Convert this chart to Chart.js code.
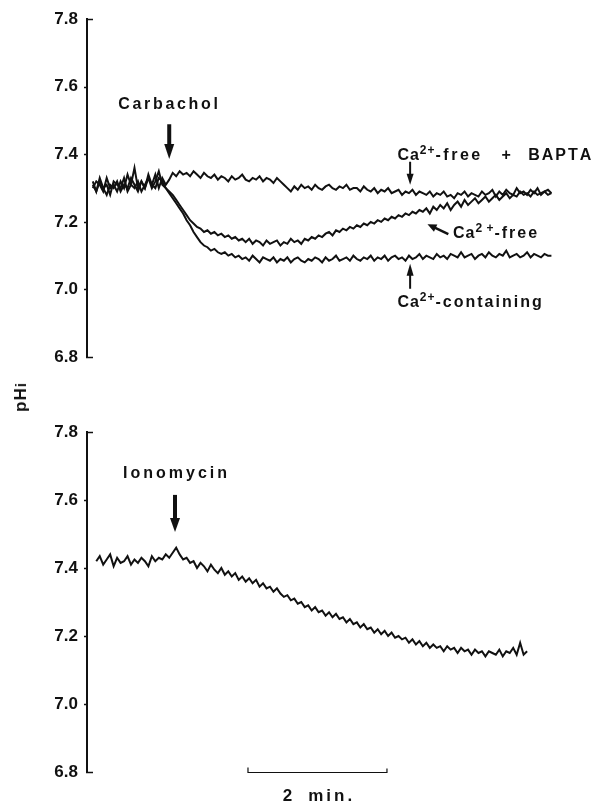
<!DOCTYPE html>
<html>
<head>
<meta charset="utf-8">
<script src="https://cdn.jsdelivr.net/npm/chart.js@4.4.1/dist/chart.umd.min.js"></script>
<style>
  html, body { margin: 0; padding: 0; background: #fff; }
  body { width: 593px; height: 804px; position: relative; overflow: hidden; }
  canvas { position: absolute; left: 0; }
  #c1 { top: 0; }
  #c2 { top: 400px; }
  #ylab { position: absolute; left: 21px; top: 397px; transform: translate(-50%, -50%) rotate(-90deg);
          font: bold 17px "Liberation Sans", Arial, sans-serif; color: #111; white-space: nowrap; letter-spacing: 1px; }
</style>
</head>
<body>
<canvas id="c1" width="593" height="380"></canvas>
<canvas id="c2" width="593" height="404"></canvas>
<div id="ylab">pH<span style="font-size:15px">i</span></div>
<script>
// ---- data (time in s, pHi) ----
const timeTop = [5,8,11,14,17,20,23,26,29,32,35,38,41,44,47,50,53,56,59,62,65,68,71,74,77,80,83,86,89,92,95,98,101,104,107,110,113,116,119,122,125,128,131,134,137,140,143,146,149,152,155,158,161,164,167,170,173,176,179,182,185,188,191,194,197,200,203,206,209,212,215,218,221,224,227,230,233,236,239,242,245,248,251,254,257,260,263,266,269,272,275,278,281,284,287,290,293,296,299,302,305,308,311,314,317,320,323,326,329,332,335,338,341,344,347,350,353,356,359,362,365,368,371,374,377,380,383,386,389,392,395,398,401];

const caFreeBapta = [7.32,7.29,7.33,7.30,7.31,7.28,7.32,7.31,7.30,7.33,7.29,7.31,7.36,7.30,7.32,7.30,7.33,7.31,7.34,7.30,7.33,7.31,
  7.325,7.345,7.335,7.35,
  7.34,7.345,7.335,7.35,7.34,7.33,7.345,7.335,7.33,7.34,7.325,7.335,7.33,7.32,7.335,7.325,7.33,7.34,7.325,7.32,7.33,7.325,7.335,7.32,7.33,7.325,7.315,7.33,7.32,7.31,
  7.30,7.29,7.305,7.295,7.31,7.30,7.305,7.295,7.31,7.30,7.295,7.305,7.31,7.30,7.295,7.305,7.30,7.31,7.295,7.30,
  7.30,7.29,7.305,7.295,7.29,7.30,7.285,7.295,7.29,7.30,7.285,7.29,7.295,7.28,7.29,7.285,7.295,7.28,7.29,7.285,
  7.28,7.29,7.275,7.285,7.28,7.29,7.275,7.28,7.27,7.285,7.28,7.29,7.275,7.285,7.28,7.275,7.29,7.28,7.285,7.295,7.275,7.29,7.28,7.295,7.285,7.28,7.30,7.285,7.29,7.28,7.295,7.285,7.30,7.28,7.29,7.295,7.285];

const caFree = [7.30,7.32,7.31,7.29,7.33,7.30,7.31,7.29,7.32,7.30,7.34,7.31,7.30,7.32,7.29,7.31,7.33,7.30,7.32,7.35,7.31,7.30,
  7.29,7.28,7.265,7.25,7.235,7.22,7.205,7.195,7.185,7.18,7.17,7.175,7.165,7.17,7.16,7.165,7.155,7.16,7.15,7.155,
  7.145,7.15,7.14,7.15,7.135,7.145,7.14,7.13,7.145,7.135,7.14,7.145,7.13,7.14,7.135,7.15,7.14,7.145,7.135,7.15,7.145,7.155,7.15,7.16,
  7.155,7.165,7.17,7.16,7.175,7.17,7.18,7.175,7.185,7.18,7.19,7.185,7.195,7.19,7.20,7.195,7.205,7.20,7.21,7.205,7.215,7.21,7.22,
  7.215,7.225,7.22,7.23,7.225,7.235,7.23,7.24,7.225,7.245,7.235,7.25,7.24,7.255,7.235,7.25,7.26,7.245,7.265,7.25,7.26,7.27,7.255,7.265,7.275,7.26,7.27,7.28,7.265,7.275,7.285,7.27,7.28,7.275,7.29,7.28,7.285,7.275,7.29,7.28,7.285,7.29,7.28,7.285];

const caContaining = [7.31,7.29,7.32,7.30,7.28,7.31,7.30,7.32,7.29,7.31,7.30,7.33,7.31,7.29,7.32,7.30,7.34,7.31,7.30,7.33,7.32,7.30,
  7.285,7.27,7.255,7.24,7.225,7.205,7.19,7.17,7.155,7.14,7.13,7.125,7.115,7.12,7.11,7.105,7.11,7.10,7.105,7.095,
  7.10,7.09,7.095,7.085,7.10,7.09,7.08,7.095,7.09,7.085,
  7.095,7.08,7.09,7.085,7.095,7.08,7.09,7.095,7.085,7.08,
  7.09,7.085,7.095,7.09,7.08,7.095,7.085,7.09,7.10,7.085,
  7.09,7.095,7.085,7.10,7.09,7.085,7.095,7.09,7.10,7.085,
  7.095,7.09,7.10,7.085,7.095,7.10,7.09,7.095,7.085,7.10,
  7.09,7.095,7.105,7.09,7.10,7.095,7.09,7.105,7.095,7.10,
  7.09,7.105,7.10,7.095,7.11,7.095,7.10,7.105,7.09,7.10,
  7.105,7.095,7.11,7.10,7.095,7.105,7.10,7.115,7.095,7.10,
  7.105,7.095,7.10,7.11,7.095,7.105,7.10,7.095,7.105,7.10,
  7.10];

const timeBottom = [8,11,14,17,20,23,26,29,32,35,38,41,44,47,50,53,56,59,62,65,68,71,74,77,80,83,86,89,92,95,98,101,104,107,110,113,116,119,122,125,128,131,134,137,140,143,146,149,152,155,158,161,164,167,170,173,176,179,182,185,188,191,194,197,200,203,206,209,212,215,218,221,224,227,230,233,236,239,242,245,248,251,254,257,260,263,266,269,272,275,278,281,284,287,290,293,296,299,302,305,308,311,314,317,320,323,326,329,332,335,338,341,344,347,350,353,356,359,362,365,368,371,374,377,380];

const ionomycin = [7.42,7.435,7.41,7.425,7.44,7.405,7.43,7.415,7.42,7.435,7.41,7.425,7.415,7.43,7.42,7.405,7.435,7.42,7.43,
  7.425,7.44,7.43,7.445,7.46,
  7.44,7.425,7.43,7.415,7.42,7.40,7.415,7.405,7.39,7.41,7.395,
  7.385,7.40,7.38,7.39,7.375,7.385,7.365,7.375,7.36,7.37,7.355,7.365,7.345,7.355,7.34,7.345,7.33,7.34,7.325,7.315,7.32,7.305,
  7.31,7.295,7.30,7.285,7.29,7.275,7.285,7.27,7.275,7.26,7.27,7.255,7.265,7.25,7.255,7.24,7.25,7.235,7.24,7.225,7.235,7.22,7.225,7.21,7.22,7.205,7.215,7.20,7.21,7.195,7.20,
  7.19,7.195,7.18,7.19,7.175,7.185,7.17,7.18,7.165,7.175,7.165,7.17,7.155,7.17,7.16,7.165,7.15,7.165,7.155,7.16,7.145,7.16,7.15,7.155,7.14,7.155,7.15,7.145,7.16,7.14,7.155,7.15,7.165,7.145,7.18,7.145,7.155];

const yTicks = [6.8, 7.0, 7.2, 7.4, 7.6, 7.8];

// ---- annotation layout (data coords) ----
const FONT = '"Liberation Sans", Arial, sans-serif';
const annTop = [
  {type:'text', x:70, y:7.533, align:'center', segs:[{t:'Carbachol', s:16, sp:2.7}]},
  {type:'arrow', x1:71, y1:7.489, x2:71, y2:7.386, w:4, hl:15, hw:10},
  {type:'text', x:268, y:7.384, segs:[{t:'Ca', s:16, sp:1},{t:'2+', s:12, sp:1, rise:6},{t:'-free', s:16, sp:2.5}]},
  {type:'text', x:358, y:7.384, segs:[{t:'+', s:16, sp:0}]},
  {type:'text', x:381, y:7.384, segs:[{t:'BAPTA', s:16, sp:2}]},
  {type:'arrow', x1:279, y1:7.378, x2:279, y2:7.31, w:2, hl:11, hw:7},
  {type:'text', x:316, y:7.152, segs:[{t:'Ca', s:16, sp:1},{t:'2 +', s:12, sp:0.5, rise:6},{t:'-free', s:16, sp:2}]},
  {type:'arrow', x1:312, y1:7.164, x2:294, y2:7.193, w:2.5, hl:9, hw:8},
  {type:'arrow', x1:279, y1:7.002, x2:279, y2:7.076, w:2, hl:12, hw:7},
  {type:'text', x:268, y:6.947, segs:[{t:'Ca', s:16, sp:1},{t:'2+', s:12, sp:1, rise:6},{t:'-containing', s:16, sp:2}]}
];
const annBottom = [
  {type:'text', x:76, y:7.665, align:'center', segs:[{t:'Ionomycin', s:16, sp:3}]},
  {type:'arrow', x1:76, y1:7.615, x2:76, y2:7.506, w:4, hl:14, hw:10},
  {type:'scalebar', x1:139, x2:259, y:6.8},
  {type:'text', x:169, y:6.8, dy:29, segs:[{t:'2', s:17, sp:0}]},
  {type:'text', x:191, y:6.8, dy:29, segs:[{t:'min.', s:17, sp:3}]}
];

function spacedWidth(ctx, seg) {
  ctx.font = 'bold ' + seg.s + 'px ' + FONT;
  let w = 0;
  for (const ch of seg.t) w += ctx.measureText(ch).width + seg.sp;
  return w - seg.sp;
}
function drawSegs(ctx, segs, x, y, align) {
  let total = 0;
  segs.forEach((sg, i) => { total += spacedWidth(ctx, sg) + (i < segs.length - 1 ? 1 : 0); });
  let cx = align === 'center' ? x - total / 2 : x;
  ctx.fillStyle = '#111';
  ctx.textBaseline = 'alphabetic';
  ctx.textAlign = 'left';
  for (const sg of segs) {
    ctx.font = 'bold ' + sg.s + 'px ' + FONT;
    for (const ch of sg.t) {
      ctx.fillText(ch, cx, y - (sg.rise || 0));
      cx += ctx.measureText(ch).width + sg.sp;
    }
    cx += 1 - sg.sp;
  }
}
function drawArrow(ctx, x1, y1, x2, y2, w, hl, hw) {
  const dx = x2 - x1, dy = y2 - y1, L = Math.hypot(dx, dy);
  const ux = dx / L, uy = dy / L;
  const bx = x2 - ux * hl, by = y2 - uy * hl;
  ctx.strokeStyle = '#111'; ctx.fillStyle = '#111';
  ctx.lineWidth = w; ctx.lineCap = 'butt';
  ctx.beginPath(); ctx.moveTo(x1, y1); ctx.lineTo(bx + ux, by + uy); ctx.stroke();
  ctx.beginPath();
  ctx.moveTo(x2, y2);
  ctx.lineTo(bx - uy * hw / 2, by + ux * hw / 2);
  ctx.lineTo(bx + uy * hw / 2, by - ux * hw / 2);
  ctx.closePath(); ctx.fill();
}

const annPlugin = {
  id: 'ann',
  afterDraw(chart, args, opts) {
    const ctx = chart.ctx, xs = chart.scales.x, ys = chart.scales.y;
    ctx.save();
    ctx.strokeStyle = '#111'; ctx.lineWidth = 1.5;
    const left = chart.chartArea.left;
    for (const v of yTicks) {
      const py = Math.round(ys.getPixelForValue(v)) + 0.5;
      const end = (v === 6.8 || v === 7.8);
      ctx.beginPath();
      if (end) { ctx.moveTo(left - 1, py); ctx.lineTo(left + 6, py); }
      else { ctx.moveTo(left - 3, py); ctx.lineTo(left, py); }
      ctx.stroke();
    }
    for (const a of opts.items) {
      if (a.type === 'text') {
        drawSegs(ctx, a.segs, xs.getPixelForValue(a.x), ys.getPixelForValue(a.y) + (a.dy || 0), a.align);
      } else if (a.type === 'arrow') {
        drawArrow(ctx, xs.getPixelForValue(a.x1), ys.getPixelForValue(a.y1),
                  xs.getPixelForValue(a.x2), ys.getPixelForValue(a.y2), a.w, a.hl, a.hw);
      } else if (a.type === 'scalebar') {
        const p1 = xs.getPixelForValue(a.x1), p2 = xs.getPixelForValue(a.x2);
        const py = Math.round(ys.getPixelForValue(a.y)) + 0.5;
        ctx.strokeStyle = '#111'; ctx.lineWidth = 1.2;
        ctx.beginPath();
        ctx.moveTo(p1, py - 5); ctx.lineTo(p1, py); ctx.lineTo(p2, py); ctx.lineTo(p2, py - 4);
        ctx.stroke();
      }
    }
    ctx.restore();
  }
};

function toXY(t, v) { return v.map((y, i) => ({x: t[i], y: y})); }
function lineDs(t, v) {
  return {data: toXY(t, v), borderColor: '#111', borderWidth: 2, pointRadius: 0, tension: 0, fill: false, borderJoinStyle: 'miter'};
}
function makeOptions(items, padTop, padBottom) {
  return {
    responsive: false, animation: false, events: [],
    layout: {padding: {left: 0, right: 30, top: padTop, bottom: padBottom}},
    plugins: {legend: {display: false}, tooltip: {enabled: false}, ann: {items: items}},
    scales: {
      x: {type: 'linear', min: 0, max: 411, display: false},
      y: {
        type: 'linear', min: 6.8, max: 7.8,
        afterFit(scale) { scale.width = 87; },
        afterBuildTicks(scale) { scale.ticks = yTicks.map(v => ({value: v})); },
        grid: {display: false, drawTicks: false},
        border: {display: true, color: '#111', width: 2},
        ticks: {
          padding: 9, color: '#111',
          font: {family: FONT, size: 17, weight: 'bold'},
          callback: v => Number(v).toFixed(1)
        }
      }
    }
  };
}

new Chart(document.getElementById('c1'), {
  type: 'line',
  data: {datasets: [lineDs(timeTop, caFreeBapta), lineDs(timeTop, caFree), lineDs(timeTop, caContaining)]},
  options: makeOptions(annTop, 16, 23),
  plugins: [annPlugin]
});
new Chart(document.getElementById('c2'), {
  type: 'line',
  data: {datasets: [lineDs(timeBottom, ionomycin)]},
  options: makeOptions(annBottom, 32, 32),
  plugins: [annPlugin]
});
</script>
</body>
</html>
